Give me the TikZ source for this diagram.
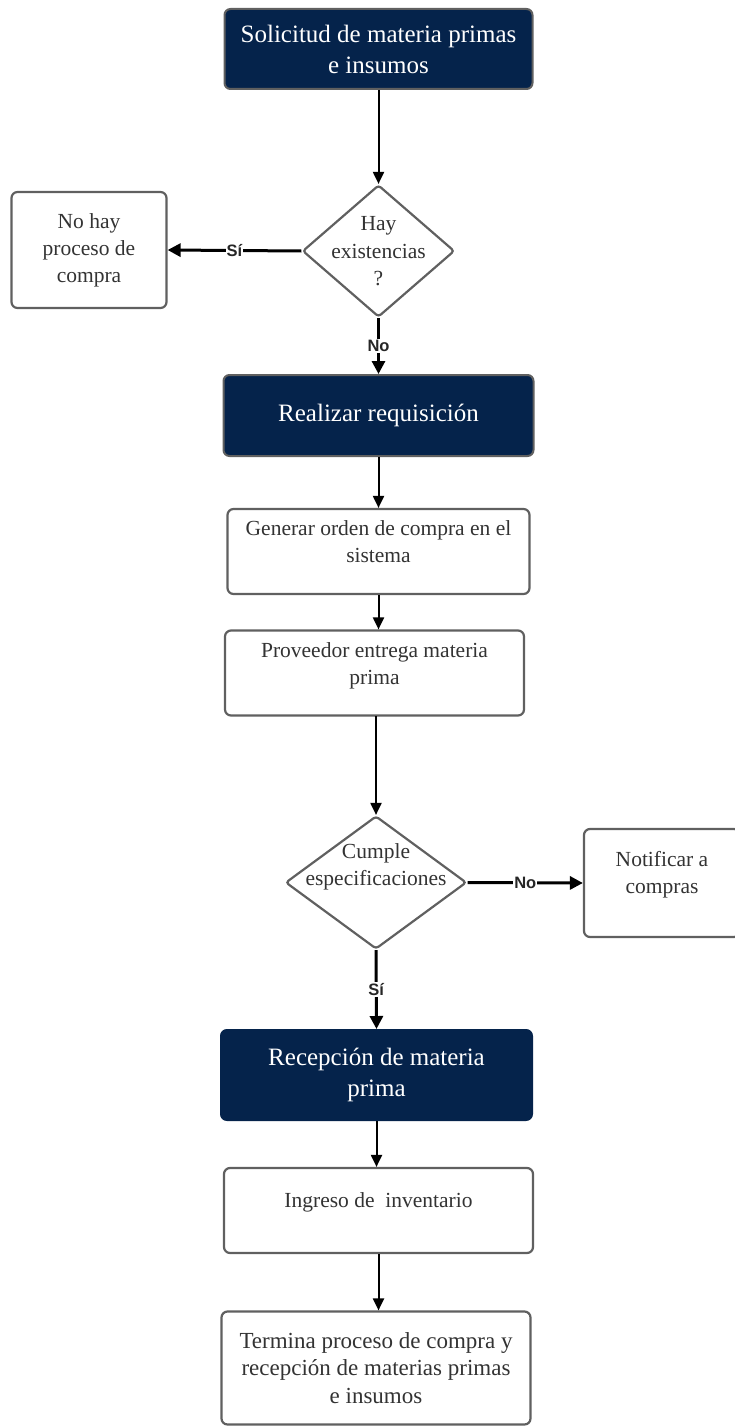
\documentclass[tikz,border=0pt]{standalone}
\usepackage{fontspec}
\setmainfont{Liberation Serif}
\newfontfamily\labfont{Liberation Sans}
\usetikzlibrary{shapes.geometric,arrows.meta}
\definecolor{navy}{HTML}{05234B}
\definecolor{edge}{HTML}{606060}
\definecolor{txt}{HTML}{333333}
\tikzset{
  darkbox/.style={rectangle, rounded corners=6pt, fill=navy, draw=edge, line width=2pt, text=white, align=center, inner sep=0pt, font=\fontsize{25}{31}\selectfont},
  whitebox/.style={rectangle, rounded corners=6pt, fill=white, draw=edge, line width=2.2pt, text=txt, align=center, inner sep=0pt, font=\fontsize{21.5}{27}\selectfont},
  decision/.style={diamond, rounded corners=3pt, fill=white, draw=edge, line width=2.2pt, inner sep=0pt},
  dtext/.style={text=txt, align=center, inner sep=0pt, font=\fontsize{21.5}{27.5}\selectfont},
  arr/.style={draw=black, line width=2pt, -{Triangle[length=12pt,width=11pt]}},
  larr/.style={draw=black, line width=3pt, -{Triangle[length=13pt,width=13pt]}},
  lab/.style={fill=white, inner sep=1pt, text=black!85, font=\labfont\bfseries\fontsize{16.5}{16.5}\selectfont}
}
\begin{document}
\begin{tikzpicture}[x=1pt,y=-1pt]
\useasboundingbox (0,0) rectangle (735,1426);
% nodes
\node[darkbox, minimum width=308pt, minimum height=80pt] (b1) at (378.5,49) {Solicitud de materia primas\\e insumos};
\node[decision, minimum width=152pt, minimum height=132pt] (d1) at (378.5,251) {};
\node[dtext] (d1t) at (378.5,251.5) {Hay\\existencias\\?};
\node[whitebox, minimum width=155pt, minimum height=116pt] (nh) at (89,250) {No hay\\proceso de\\compra};
\node[darkbox, minimum width=310pt, minimum height=81pt] (b2) at (378.5,415.5) {Realizar requisición};
\node[whitebox, minimum width=302pt, minimum height=85pt] (b3) at (378.5,551.5) {Generar orden de compra en el\\sistema\\[-8pt]};
\node[whitebox, minimum width=299pt, minimum height=85pt] (b4) at (374.5,673) {Proveedor entrega materia\\prima\\[-8pt]};
\node[decision, minimum width=181pt, minimum height=133pt] (d2) at (376,882.5) {};
\node[dtext] (d2t) at (376,867) {Cumple\\especificaciones};
\node[whitebox, minimum width=156pt, minimum height=108pt] (nc) at (662,883) {Notificar a\\compras\\[-6pt]};
\node[darkbox, minimum width=311pt, minimum height=90pt, draw=navy] (b5) at (376.5,1075) {Recepción de materia\\prima};
\node[whitebox, minimum width=309pt, minimum height=85pt] (b6) at (378.5,1210.5) {Ingreso de\ \ inventario\\[-6pt]};
\node[whitebox, minimum width=309pt, minimum height=113pt, font=\fontsize{23}{27.5}\selectfont] (b7) at (376,1368) {Termina proceso de compra y\\recepción de materias primas\\e insumos};
% connectors
\draw[arr] (b1.south) -- (d1.north);
\draw[larr] (d1.west) -- node[lab] {Sí} (nh.east);
\draw[larr] (d1.south) -- node[lab] {No} (b2.north);
\draw[arr] (b2.south) -- (b3.north);
\draw[arr] (b3.south) -- (b3.south |- b4.north);
\draw[arr] (b4.south) -- (b4.south -| d2.north) -- (d2.north);
\draw[larr] (d2.east) -- node[lab] {No} (nc.west);
\draw[larr] (d2.south) -- node[lab] {Sí} (b5.north);
\draw[arr] (b5.south) -- (b5.south |- b6.north);
\draw[arr] (b6.south) -- (b6.south |- b7.north);
\end{tikzpicture}
\end{document}
